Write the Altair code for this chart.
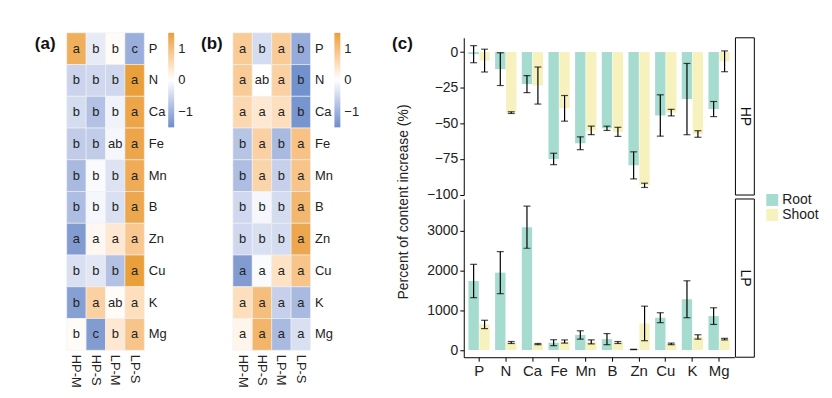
import altair as alt
import pandas as pd

elements = ["P", "N", "Ca", "Fe", "Mn", "B", "Zn", "Cu", "K", "Mg"]
groups = ["HP-M", "HP-S", "LP-M", "LP-S"]

# panel (a): row-scaled values (HP-M, HP-S, LP-M, LP-S)
heat_a = [
    [1.25, -0.25, 0.05, -1.05],
    [-0.55, -0.5, -0.5, 1.5],
    [-0.45, -0.8, -0.15, 1.4],
    [-0.65, -0.65, -0.1, 1.4],
    [-0.9, -0.05, -0.35, 1.3],
    [-0.85, -0.1, -0.4, 1.35],
    [-1.3, 0.1, 0.35, 0.85],
    [-0.4, -0.3, -0.8, 1.5],
    [-1.25, 0.7, 0.05, 0.5],
    [0.05, -1.3, 0.35, 0.9],
]
letters_a = [
    ["a", "b", "b", "c"], ["b", "b", "b", "a"], ["b", "b", "b", "a"],
    ["b", "b", "ab", "a"], ["b", "b", "b", "a"], ["b", "b", "b", "a"],
    ["a", "a", "a", "a"], ["b", "b", "b", "a"], ["b", "a", "ab", "a"],
    ["b", "c", "b", "a"],
]
# panel (b)
heat_b = [
    [0.8, -0.45, 0.8, -1.1],
    [0.8, 0.0, 0.7, -1.45],
    [0.6, 0.35, 0.5, -1.4],
    [-0.75, 0.7, -0.9, 0.95],
    [-0.85, 0.65, -0.6, 0.9],
    [-0.5, -0.1, -0.45, 1.1],
    [-0.5, -0.4, -0.45, 1.35],
    [-1.3, -0.05, 0.45, 0.9],
    [0.5, 1.0, -0.6, -0.9],
    [0.15, 1.15, -0.9, -0.4],
]
letters_b = [
    ["a", "b", "a", "b"], ["a", "ab", "a", "b"], ["a", "a", "a", "b"],
    ["b", "a", "b", "a"], ["b", "a", "b", "a"], ["b", "b", "b", "a"],
    ["b", "b", "b", "a"], ["a", "a", "a", "a"], ["a", "a", "a", "a"],
    ["a", "a", "a", "a"],
]

# panel (c): percent of content increase, mean and error half-width
tissues = ["Root", "Shoot"]
hp_root_mean = [-1.5, -12, -22.5, -75, -64, -53.5, -79.5, -44.5, -33, -40]
hp_root_err = [6, 11.5, 6, 4, 4.5, 1.5, 9.5, 14.5, 25, 5.3]
hp_shoot_mean = [-6, -42.5, -23.5, -39.5, -55, -56, -93.5, -42.5, -57.5, -6.5]
hp_shoot_err = [8, 0.6, 13, 9, 3, 3.2, 1.5, 2.3, 2.3, 7.3]
lp_root_mean = [1740, 1950, 3095, 185, 380, 275, 15, 815, 1280, 855]
lp_root_err = [420, 530, 530, 75, 105, 140, 5, 125, 465, 210]
lp_shoot_mean = [645, 190, 150, 215, 205, 190, 670, 155, 330, 275]
lp_shoot_err = [105, 25, 15, 40, 50, 25, 435, 20, 55, 20]

hp_ticks = [0, -25, -50, -75, -100]
lp_ticks = [0, 1000, 2000, 3000]

BLUE = "#6d8ecb"
ORANGE = "#e99f3a"
TEAL = "#a6dccf"
YELLOW = "#f7f2bd"
FONT = "Liberation Sans"


def heat_df(vals, lets):
    rows = []
    for i, e in enumerate(elements):
        for j, g in enumerate(groups):
            rows.append({"element": e, "group": g, "z": vals[i][j], "lab": lets[i][j]})
    return pd.DataFrame(rows)


def heatmap(vals, lets, tag):
    df = heat_df(vals, lets)
    base = alt.Chart(df).encode(
        x=alt.X("group:N", sort=groups,
                axis=alt.Axis(orient="bottom", labelAngle=90, labelAlign="left",
                              labelBaseline="middle", ticks=False, domain=False,
                              title=None, labelFontSize=13, labelPadding=4,
                              labelColor="#222", grid=False)),
        y=alt.Y("element:N", sort=elements,
                axis=alt.Axis(orient="right", ticks=False, domain=False, title=None,
                              labelFontSize=13, labelPadding=4, labelColor="#222",
                              grid=False)),
    )
    rect = base.mark_rect(stroke="#f2f2f2", strokeWidth=0.6).encode(
        color=alt.Color("z:Q",
                        scale=alt.Scale(domain=[-1.5, 0, 1.5], range=[BLUE, "#ffffff", ORANGE],
                                        interpolate="lab"),
                        legend=alt.Legend(title=None, orient="right", offset=1,
                                          gradientLength=95, gradientThickness=6,
                                          values=[1, 0, -1], labelFontSize=13,
                                          labelOffset=4, gradientStrokeWidth=0,
                                          direction="vertical", labelColor="#222"))
    )
    text = base.mark_text(fontSize=13, color="#222").encode(text="lab:N")
    tag_t = alt.Chart(pd.DataFrame({"t": [tag]})).mark_text(
        align="left", baseline="middle", fontSize=17, fontWeight="bold", color="#111"
    ).encode(x=alt.value(-32), y=alt.value(11), text="t:N")
    return alt.layer(rect, text, tag_t).properties(width=78, height=319)


def bar_df(rm, re, sm, se):
    rows = []
    for i, e in enumerate(elements):
        rows.append({"element": e, "tissue": "Root", "mean": rm[i], "lo": rm[i] - re[i], "hi": rm[i] + re[i]})
        rows.append({"element": e, "tissue": "Shoot", "mean": sm[i], "lo": sm[i] - se[i], "hi": sm[i] + se[i]})
    return pd.DataFrame(rows)


def bar_panel(df, domain, ticks, label, height, show_x, legend, extra):
    xaxis = None
    if show_x:
        xaxis = alt.Axis(title=None, labelAngle=0, labelFontSize=15, tickSize=4,
                         labelPadding=2, domainColor="black", tickColor="black",
                         labelColor="#222", grid=False)
    yscale = alt.Scale(domain=domain, nice=False, zero=False)
    yaxis = alt.Axis(values=ticks, title=None, labelFontSize=14, tickSize=4,
                     labelPadding=2, domainColor="black", tickColor="black",
                     labelColor="#222", grid=False, labelOverlap=False, format="d")
    base = alt.Chart(df).encode(
        x=alt.X("element:N", sort=elements,
                scale=alt.Scale(paddingInner=0.2, paddingOuter=0.175), axis=xaxis),
        xOffset=alt.XOffset("tissue:N", sort=tissues, scale=alt.Scale(paddingInner=0.05)),
    )
    bars = base.mark_bar().encode(
        y=alt.Y("mean:Q", scale=yscale, axis=yaxis),
        y2=alt.datum(0),
        color=alt.Color("tissue:N", scale=alt.Scale(domain=tissues, range=[TEAL, YELLOW]),
                        legend=legend),
    )
    rule = base.mark_rule(color="black", strokeWidth=1.2).encode(
        y=alt.Y("lo:Q", scale=yscale, axis=yaxis), y2="hi:Q")
    cap_lo = base.mark_tick(orient="horizontal", size=7, thickness=1.2, color="black").encode(
        y=alt.Y("lo:Q", scale=yscale, axis=yaxis))
    cap_hi = base.mark_tick(orient="horizontal", size=7, thickness=1.2, color="black").encode(
        y=alt.Y("hi:Q", scale=yscale, axis=yaxis))
    lab = pd.DataFrame({"t": [label]})
    strip = alt.Chart(lab).mark_rect(fill="white", stroke="black", strokeWidth=1).encode(
        x=alt.value(273), x2=alt.value(292), y=alt.value(0), y2=alt.value(height))
    strip_t = alt.Chart(lab).mark_text(angle=90, fontSize=14, color="#111",
                                       align="center", baseline="middle").encode(
        x=alt.value(282.5), y=alt.value(height / 2), text="t:N")
    layers = [bars, rule, cap_lo, cap_hi, strip, strip_t] + extra
    return alt.layer(*layers).properties(width=272, height=height)


hp_df = bar_df(hp_root_mean, hp_root_err, hp_shoot_mean, hp_shoot_err)
lp_df = bar_df(lp_root_mean, lp_root_err, lp_shoot_mean, lp_shoot_err)

tag_c = alt.Chart(pd.DataFrame({"t": ["(c)"]})).mark_text(
    align="left", baseline="middle", fontSize=17, fontWeight="bold", color="#111"
).encode(x=alt.value(-72), y=alt.value(6), text="t:N")
ytitle = alt.Chart(pd.DataFrame({"t": ["Percent of content increase (%)"]})).mark_text(
    angle=270, align="center", baseline="middle", fontSize=14, color="#222"
).encode(x=alt.value(-60), y=alt.value(165), text="t:N")

hp = bar_panel(hp_df, [-100.3, 10], hp_ticks, "HP", 158, False, None, [tag_c, ytitle])
lp_legend = alt.Legend(title=None, orient="none", legendX=303, legendY=-6,
                       symbolType="square", symbolSize=144, symbolStrokeWidth=0,
                       symbolOpacity=1, labelFontSize=14, labelOffset=3, rowPadding=1,
                       labelColor="#222")
lp = bar_panel(lp_df, [-181, 3806], lp_ticks, "LP", 159, True, lp_legend, [])

spacer = alt.Chart(pd.DataFrame({"a": [0]})).mark_point(opacity=0).encode(
    x=alt.value(0), y=alt.value(0)).properties(width=10, height=1)

panel_c = alt.vconcat(spacer, hp, lp, spacing=4, bounds="flush").resolve_scale(
    color="independent")

panel_ab = alt.hconcat(heatmap(heat_a, letters_a, "(a)"), heatmap(heat_b, letters_b, "(b)"),
                       spacing=8).resolve_scale(color="independent")

chart = alt.hconcat(panel_ab, panel_c, spacing=33).resolve_scale(
    color="independent"
).properties(
    padding={"left": 27, "top": 21, "right": 5, "bottom": 0}
).configure(font=FONT).configure_view(stroke=None)

chart.save("out.html", embed_options={"renderer": "svg", "actions": False})
